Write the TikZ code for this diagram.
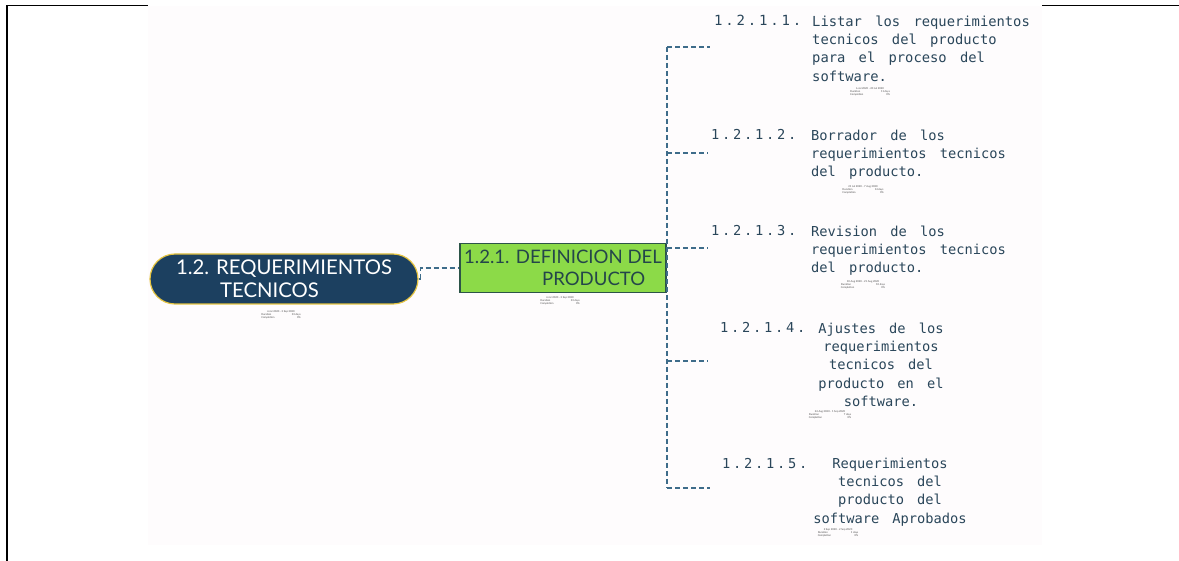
\documentclass[tikz,border=0pt]{standalone}
\usepackage{fontspec}
\usepackage{graphicx}
\setmainfont{Lato}
\newfontfamily\taskfam[WordSpace=1.6]{DejaVu Sans Mono}
\newfontfamily\numfam[LetterSpace=20]{DejaVu Sans Mono}
\usetikzlibrary{calc}

\definecolor{navy}{RGB}{28,64,96}
\definecolor{gold}{RGB}{229,196,65}
\definecolor{leaf}{RGB}{140,218,72}
\definecolor{leafedge}{RGB}{44,84,72}
\definecolor{leaftext}{RGB}{36,70,74}
\definecolor{link}{RGB}{62,108,138}
\definecolor{tasktext}{RGB}{42,70,90}
\definecolor{sheet}{RGB}{254,252,253}

\begin{document}
\begin{tikzpicture}[x=1pt,y=-1pt,
  rootbox/.style={draw=gold, line width=1.2pt, fill=navy, text=white,
    rounded corners=25pt, minimum width=268pt, minimum height=50pt,
    align=left, inner sep=0pt, font=\fontsize{20.3}{23}\selectfont},
  leafbox/.style={draw=leafedge, line width=1.2pt, fill=leaf, text=leaftext,
    minimum width=206pt, minimum height=49pt, align=left, inner sep=0pt,
    font=\fontsize{18.6}{22}\selectfont},
  task/.style={text=tasktext, inner sep=0pt,
    font=\taskfam\fontsize{13.7}{18.3}\selectfont},
  tasknum/.style={text=tasktext, inner sep=0pt, anchor=base west,
    font=\numfam\fontsize{13.7}{18.3}\selectfont},
  info/.style={inner sep=0pt, text=black!70, font=\fontsize{2.6}{3.2}\selectfont},
  conn/.style={draw=link, line width=1.7pt, dash pattern=on 5pt off 3pt}
]
\useasboundingbox (0,0) rectangle (1179,561);
\fill[white] (0,0) rectangle (1179,561);
\fill[sheet] (148,6) rectangle (1042,545);

% page frame
\draw[line width=1.8pt] (7,561) -- (7,5.5) -- (148,5.5);
\draw[line width=1.8pt] (1042,5.5) -- (1179,5.5);

% main branches
\node[rootbox] (root) at (284,279) {1.2. REQUERIMIENTOS\\\hspace*{44pt}TECNICOS};
\node[leafbox] (def) at (563,268) {1.2.1. DEFINICION DEL\\\hspace*{78pt}PRODUCTO};

\node[info] (rootinfo) at (281,315) {\begin{tabular}{@{}l@{\hspace{14pt}}r@{}}\multicolumn{2}{c}{6 Jul 2020 - 2 Sep 2020}\\Duration&33 days\\Completion&0\%\end{tabular}};
\node[info] (definfo) at (560,301) {\begin{tabular}{@{}l@{\hspace{14pt}}r@{}}\multicolumn{2}{c}{6 Jul 2020 - 2 Sep 2020}\\Duration&33 days\\Completion&0\%\end{tabular}};

% tasks: number and wrapped title
\node[tasknum, font=\numfam\fontsize{14}{18.3}\selectfont] (n1) at (714,26) {1.2.1.1.};
\node[task, anchor=north west, align=left, font=\taskfam\fontsize{13.8}{18.3}\selectfont] (t1) at (812,15.5)
  {Listar los requerimientos\\tecnicos del producto\\para el proceso del\\software.};
\node[tasknum] (n2) at (711,140) {1.2.1.2.};
\node[task, anchor=north west, align=left] (t2) at (811,129.6)
  {Borrador de los\\requerimientos tecnicos\\del producto.};
\node[tasknum] (n3) at (711,236) {1.2.1.3.};
\node[task, anchor=north west, align=left] (t3) at (811,225.6)
  {Revision de los\\requerimientos tecnicos\\del producto.};
\node[tasknum] (n4) at (720,333) {1.2.1.4.};
\node[task, anchor=north, align=center] (t4) at (881,322.6)
  {Ajustes de los\\requerimientos\\tecnicos del\\producto en el\\software.};
\node[tasknum] (n5) at (722,468) {1.2.1.5.};
\node[task, anchor=north, align=center] (t5) at (890,457.6)
  {Requerimientos\\tecnicos del\\producto del\\software Aprobados};

\node[info] (i1) at (870,92) {\begin{tabular}{@{}l@{\hspace{14pt}}r@{}}\multicolumn{2}{c}{6 Jul 2020 - 20 Jul 2020}\\Duration&11 days\\Completion&0\%\end{tabular}};
\node[info] (i2) at (863,190) {\begin{tabular}{@{}l@{\hspace{14pt}}r@{}}\multicolumn{2}{c}{21 Jul 2020 - 7 Aug 2020}\\Duration&14 days\\Completion&0\%\end{tabular}};
\node[info] (i3) at (863,285) {\begin{tabular}{@{}l@{\hspace{14pt}}r@{}}\multicolumn{2}{c}{10 Aug 2020 - 21 Aug 2020}\\Duration&10 days\\Completion&0\%\end{tabular}};
\node[info] (i4) at (830,415) {\begin{tabular}{@{}l@{\hspace{14pt}}r@{}}\multicolumn{2}{c}{24 Aug 2020 - 1 Sep 2020}\\Duration&7 days\\Completion&0\%\end{tabular}};
\node[info] (i5) at (838,533) {\begin{tabular}{@{}l@{\hspace{14pt}}r@{}}\multicolumn{2}{c}{2 Sep 2020 - 2 Sep 2020}\\Duration&1 days\\Completion&0\%\end{tabular}};

% connectors: root to product, then one trunk with five branches
\coordinate (e1) at (710,47);
\coordinate (e2) at (708,153);
\coordinate (e3) at (708,248);
\coordinate (e4) at (708,361);
\coordinate (e5) at (710,488);
\coordinate (trunk) at ($(def.east)+(0.5,0)$);
\coordinate (rootout) at ($(root.east)+(2,0)$);

\draw[conn] (root.east) -- (rootout);
\draw[conn] (rootout) |- (def.west);
\draw[conn] (trunk |- e1) -- (trunk |- e5);
\foreach \e in {e1,e2,e3,e4,e5}
  \draw[conn] (trunk |- \e) -- (\e);
\end{tikzpicture}
\end{document}
